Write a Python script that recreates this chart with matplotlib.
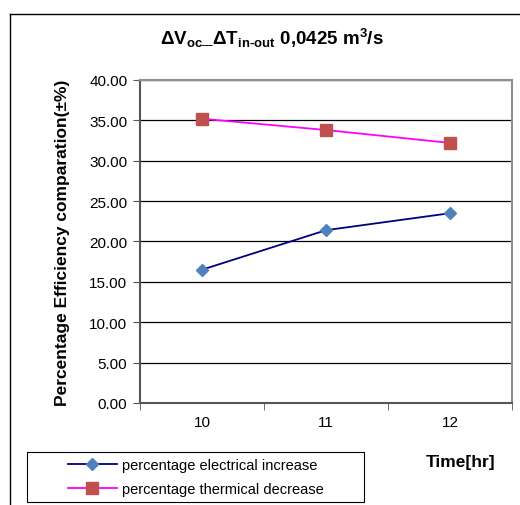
import numpy as np
import matplotlib
matplotlib.use('Agg')
import matplotlib.pyplot as plt
from matplotlib.lines import Line2D
from matplotlib.patches import Rectangle

plt.rcParams['font.family'] = ['Liberation Sans', 'DejaVu Sans']
plt.rcParams['mathtext.fontset'] = 'custom'
plt.rcParams['mathtext.rm'] = 'Liberation Sans:bold'
plt.rcParams['mathtext.it'] = 'Liberation Sans:bold'
plt.rcParams['mathtext.bf'] = 'Liberation Sans:bold'

# data
time_labels = ['10', '11', '12']
electrical_increase = [16.5, 21.4, 23.5]
thermal_decrease = [35.2, 33.8, 32.2]

fig = plt.figure(figsize=(5.2, 5.06), dpi=100)
ax = fig.add_axes([0.269, 0.2016, 0.716, 0.6384])

x = np.arange(1, len(time_labels) + 1)
ax.plot(x, electrical_increase, color='#000080', lw=1.3, marker='D',
        markersize=6, markerfacecolor='#4F81BD', markeredgecolor='#4F81BD',
        label='percentage electrical increase')
ax.plot(x, thermal_decrease, color='#FF00FF', lw=1.3, marker='s',
        markersize=8, markerfacecolor='#C0504D', markeredgecolor='#C0504D',
        label='percentage thermical decrease')

ax.set_ylim(0, 40)
ax.set_yticks(np.arange(0, 40.1, 5))
ax.set_yticklabels([f'{v:.2f}' for v in np.arange(0, 40.1, 5)], fontsize=11)
ax.set_xlim(0.5, 3.5)
ax.set_xticks(x)
ax.set_xticklabels(time_labels, fontsize=11)
ax.set_xticks([0.5, 1.5, 2.5, 3.5], minor=True)
ax.tick_params(axis='x', which='major', length=0, pad=9)
ax.tick_params(axis='x', which='minor', length=5, direction='out', color='#555555')
ax.tick_params(axis='y', length=5, direction='out', color='#555555', pad=4)
ax.yaxis.grid(True, color='#000000', lw=0.9)
ax.set_axisbelow(True)

for s in ['left', 'bottom']:
    ax.spines[s].set_color('#555555')
    ax.spines[s].set_linewidth(1.5)
for s in ['top', 'right']:
    ax.spines[s].set_color('#909090')
    ax.spines[s].set_linewidth(1.5)

ax.set_ylabel('Percentage Efficiency comparation(±%)', fontsize=12.5,
              fontweight='bold', labelpad=14)
fig.text(0.523, 0.925,
         r'$\Delta$V$_{\mathrm{oc}}$_$\Delta$T$_{\text{in-out}}$ 0,0425 m$^{3}$/s',
         ha='center', va='center', fontsize=13.5, fontweight='bold')
fig.text(0.8865, 0.085, 'Time[hr]', ha='center', va='center',
         fontsize=12.5, fontweight='bold')

# legend box
fig.add_artist(Rectangle((27 / 520, 3 / 506), 337 / 520, 50 / 506,
                         transform=fig.transFigure, fill=False,
                         edgecolor='black', lw=0.8))
leg = fig.legend(loc='center', bbox_to_anchor=(27 / 520, 3 / 506, 337 / 520, 50 / 506),
                 fontsize=10.5, frameon=False, handlelength=3.4,
                 handletextpad=0.3, borderaxespad=0, labelspacing=0.65,
                 borderpad=0.2)

# outer chart border
fig.add_artist(Line2D([10 / 520, 10 / 520], [0, 1 - 15 / 506], color='black', lw=1))
fig.add_artist(Line2D([10 / 520, 1], [1 - 15 / 506, 1 - 15 / 506], color='black', lw=1))

fig.savefig('out.png', dpi=100)
